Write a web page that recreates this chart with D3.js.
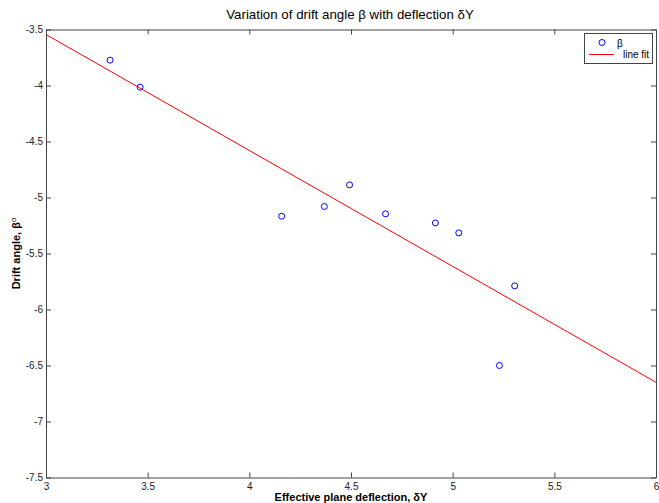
<!DOCTYPE html>
<html>
<head>
<meta charset="utf-8">
<script src="https://cdn.jsdelivr.net/npm/d3@7"></script>
<style>
  html, body { margin: 0; padding: 0; background: #fff; }
  svg { display: block; font-family: "Liberation Sans", Arial, sans-serif; }
</style>
</head>
<body>
<svg id="chart" width="659" height="503"></svg>
<script>
// Measured deflection (δY) and drift angle (β, degrees)
const deflection = [3.315, 3.463, 4.159, 4.369, 4.493, 4.670, 4.915, 5.030, 5.230, 5.305];
const driftAngle = [-3.774, -4.015, -5.167, -5.080, -4.887, -5.146, -5.227, -5.316, -6.500, -5.789];

// Straight-line fit: β = slope·δY + intercept
const fitSlope = -1.035;
const fitIntercept = -0.44;

const xTicks = [3, 3.5, 4, 4.5, 5, 5.5, 6];
const yTicks = [-3.5, -4, -4.5, -5, -5.5, -6, -6.5, -7, -7.5];

const svg = d3.select("#chart");
const L = 46, R = 656, T = 29.5, B = 477.5;

const x = d3.scaleLinear().domain([3, 6]).range([L, R]);
const y = d3.scaleLinear().domain([-7.5, -3.5]).range([B, T]);

const axisColor = "#444";
const tickLen = 5;
const plainNumber = d => String(d);

// Frame with inward ticks on all four sides
const axes = [
  { g: d3.axisBottom(x), t: `translate(0,${B})`, labels: true,  ticks: xTicks, pad: 5 },
  { g: d3.axisTop(x),    t: `translate(0,${T})`, labels: false, ticks: xTicks, pad: 5 },
  { g: d3.axisLeft(y),   t: `translate(${L},0)`, labels: true,  ticks: yTicks, pad: 3 },
  { g: d3.axisRight(y),  t: `translate(${R},0)`, labels: false, ticks: yTicks, pad: 3 }
];
axes.forEach(a => {
  a.g.tickValues(a.ticks)
     .tickSizeInner(-tickLen).tickSizeOuter(0)
     .tickPadding(a.pad)
     .tickFormat(a.labels ? plainNumber : "");
  const g = svg.append("g").attr("transform", a.t).call(a.g);
  g.select(".domain").attr("stroke", axisColor).attr("stroke-width", 1);
  g.selectAll(".tick line").attr("stroke", axisColor);
  g.selectAll(".tick text").attr("fill", "#222").attr("font-size", 10)
    .attr("font-family", "Liberation Sans, Arial, sans-serif");
});

// Fit line across the full x range
const fitX = x.domain();
svg.append("line")
  .attr("x1", x(fitX[0])).attr("y1", y(fitSlope * fitX[0] + fitIntercept))
  .attr("x2", x(fitX[1])).attr("y2", y(fitSlope * fitX[1] + fitIntercept))
  .attr("stroke", "#ff0000").attr("stroke-width", 1);

// Data markers
svg.append("g").selectAll("circle")
  .data(deflection.map((d, i) => [d, driftAngle[i]]))
  .join("circle")
  .attr("cx", d => x(d[0])).attr("cy", d => y(d[1]))
  .attr("r", 3).attr("fill", "none")
  .attr("stroke", "#0000ff").attr("stroke-width", 1);

// Title
svg.append("text")
  .attr("x", (L + R) / 2 - 1).attr("y", 19)
  .attr("text-anchor", "middle").attr("font-size", 13.3).attr("fill", "#000")
  .text("Variation of drift angle β with deflection δY");

// Axis labels
svg.append("text")
  .attr("x", (L + R) / 2).attr("y", 501)
  .attr("text-anchor", "middle").attr("font-size", 11).attr("font-weight", "bold")
  .text("Effective plane deflection, δY");

const yl = svg.append("text")
  .attr("transform", `translate(20,${(T + B) / 2}) rotate(-90)`)
  .attr("text-anchor", "middle").attr("font-size", 11).attr("font-weight", "bold");
yl.append("tspan").text("Drift angle, β");
yl.append("tspan").attr("baseline-shift", "super").attr("font-size", 8)
  .attr("font-weight", "normal").text("o");

// Legend
const lg = svg.append("g");
lg.append("rect").attr("x", 584.5).attr("y", 33.5).attr("width", 68).attr("height", 30)
  .attr("fill", "#fff").attr("stroke", axisColor);
lg.append("circle").attr("cx", 602).attr("cy", 42.5).attr("r", 3)
  .attr("fill", "none").attr("stroke", "#0000ff");
lg.append("text").attr("x", 617).attr("y", 46.5).attr("font-size", 10).text("β");
lg.append("line").attr("x1", 589).attr("x2", 614).attr("y1", 54.5).attr("y2", 54.5)
  .attr("stroke", "#ff0000");
lg.append("text").attr("x", 623).attr("y", 58).attr("font-size", 10).text("line fit");
</script>
</body>
</html>
